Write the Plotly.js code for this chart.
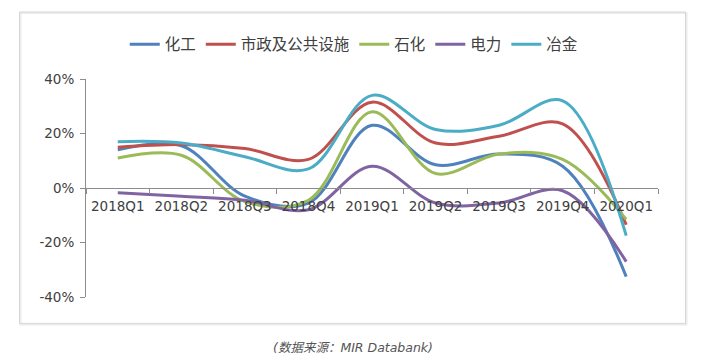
<!DOCTYPE html>
<html>
<head>
<meta charset="utf-8">
<script src="https://cdn.plot.ly/plotly-3.0.1.min.js"></script>
<style>
html,body{margin:0;padding:0;background:#fff;}
#chart{width:711px;height:361px;}
</style>
</head>
<body>
<div id="chart"></div>
<script>
const categories = ['2018Q1','2018Q2','2018Q3','2018Q4','2019Q1','2019Q2','2019Q3','2019Q4','2020Q1'];
const seriesNames = ['化工','市政及公共设施','石化','电力','冶金'];
const chemical = [14, 15.5, -3, -5.5, 23, 8.5, 12.5, 8, -32.5];
const municipal = [15, 16, 14.5, 10.5, 31.5, 16.5, 19, 23.5, -13.5];
const petrochem = [11, 12, -5, -4.5, 28, 5.3, 12.5, 10.5, -11.5];
const power = [-1.7, -3, -4.5, -8, 8, -5.5, -5.5, -1, -27];
const metallurgy = [17, 16.5, 11.5, 7, 34, 21.5, 23, 32, -17.5];
const yTicks = [-40, -20, 0, 20, 40];
const caption = '(数据来源：MIR Databank)';

const colors = ['#4F81BD','#C0504D','#9BBB59','#8064A2','#4BACC6'];
const values = [chemical, municipal, petrochem, power, metallurgy];

const traces = values.map((v, i) => ({
  type: 'scatter',
  mode: 'lines',
  name: seriesNames[i],
  x: categories,
  y: v,
  line: {color: colors[i], width: 3, shape: 'spline', smoothing: 1},
  hoverinfo: 'skip'
}));

const tickFont = {family: '"DejaVu Sans", sans-serif', size: 13.5, color: '#404040'};

const layout = {
  width: 711, height: 361,
  margin: {l: 86, r: 53, t: 79, b: 64, pad: 0},
  paper_bgcolor: 'rgba(0,0,0,0)',
  plot_bgcolor: 'rgba(0,0,0,0)',
  showlegend: true,
  legend: {
    orientation: 'h', x: 0.469, xanchor: 'center', y: 1.158, yanchor: 'middle',
    font: {family: '"Noto Sans CJK SC", sans-serif', size: 15.5, color: '#404040'},
    bgcolor: 'rgba(0,0,0,0)'
  },
  xaxis: {
    type: 'category',
    range: [-0.5, 8.5],
    anchor: 'free', position: 0.5,
    showline: true, linecolor: '#8c8c8c', linewidth: 1,
    ticks: 'outside', tickson: 'boundaries', ticklen: 5, tickcolor: '#8c8c8c',
    showgrid: false, zeroline: false,
    tickfont: tickFont,
    ticklabelstandoff: 6,
    fixedrange: true
  },
  yaxis: {
    range: [-40, 40],
    tickvals: yTicks,
    ticktext: yTicks.map(t => t + '%'),
    showline: true, linecolor: '#8c8c8c', linewidth: 1,
    ticks: 'outside', ticklen: 5, tickcolor: '#8c8c8c',
    showgrid: false, zeroline: false,
    tickfont: tickFont,
    ticklabelstandoff: 3,
    fixedrange: true
  },
  shapes: [{
    type: 'rect', xref: 'paper', yref: 'paper', layer: 'below',
    x0: (20.5-86)/572, x1: (686.5-86)/572,
    y0: (296.7-324)/217.4, y1: (296.7-13.5)/217.4,
    line: {color: '#ececec', width: 2}, fillcolor: 'rgba(0,0,0,0)'
  }, {
    type: 'rect', xref: 'paper', yref: 'paper', layer: 'below',
    x0: (19.5-86)/572, x1: (685.5-86)/572,
    y0: (296.7-323)/217.4, y1: (296.7-12.5)/217.4,
    line: {color: '#d6d6d6', width: 1}, fillcolor: 'rgba(0,0,0,0)'
  }],
  annotations: [{
    text: caption, showarrow: false,
    xref: 'paper', yref: 'paper',
    x: (353-86)/572, xanchor: 'center',
    y: (296.7-347)/217.4, yanchor: 'middle',
    font: {family: '"DejaVu Sans", "Noto Sans CJK SC", sans-serif', size: 12.5, color: '#555555', style: 'italic'}
  }]
};

Plotly.newPlot('chart', traces, layout, {displayModeBar: false, staticPlot: true});
</script>
</body>
</html>
